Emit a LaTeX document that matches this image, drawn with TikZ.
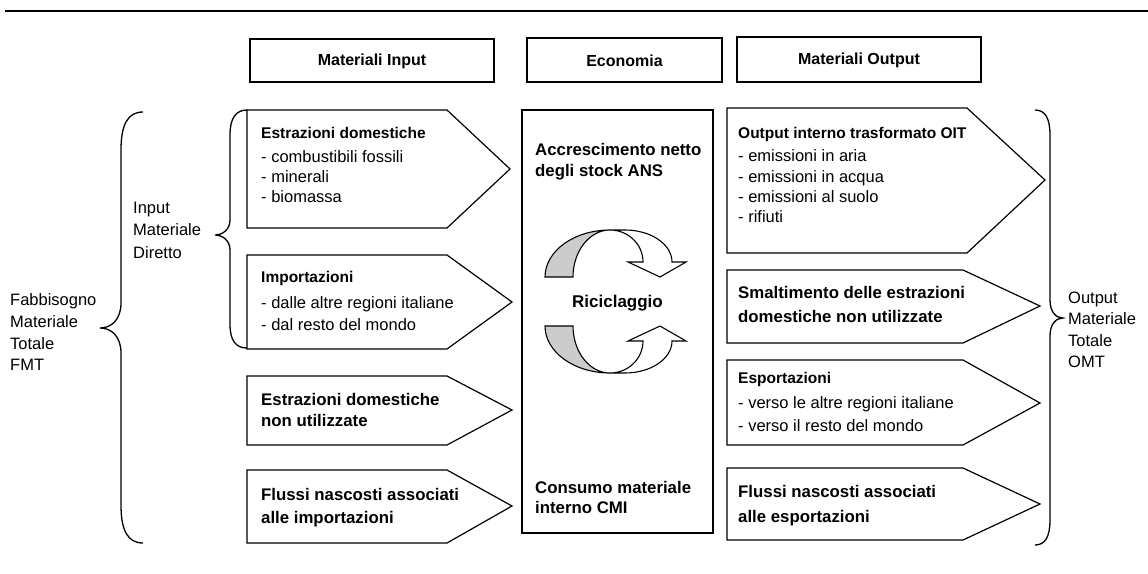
\documentclass[tikz,border=0pt]{standalone}
\usepackage{fontspec}
\setmainfont{Liberation Sans}
\newcommand{\pentpath}[6]{\draw[shp] (#1,#2) -- (#3,#2) -- (#4,#5) -- (#3,#6) -- (#1,#6) -- cycle;}
\newcommand{\hd}[1]{{\fontsize{15.5}{20}\selectfont\bfseries #1}}
\begin{document}
\begin{tikzpicture}[x=1pt,y=-1pt,
  shp/.style={draw, line width=1.2pt, fill=white, line join=miter},
  brace/.style={draw, line width=1.3pt},
  txt/.style={inner sep=0pt, anchor=north west, align=left},
  btxt/.style={inner sep=0pt, anchor=north west, align=left},
  hdr/.style={inner sep=0pt, font=\fontsize{16}{20}\selectfont\bfseries},
  recg/.style={draw, line width=1.1pt, fill=black!20},
  recw/.style={draw, line width=1.1pt, fill=white}]
\useasboundingbox (0,0) rectangle (1148,573);
% top rule
\draw[line width=2.6pt] (5,11) -- (1148,11);
% header boxes
\draw[shp] (250,39) rectangle (494,82);
\draw[shp] (527,38) rectangle (722,82);
\draw[shp] (737,37) rectangle (981,82);
\node[hdr] (hin) at (372,61) {Materiali Input};
\node[hdr] (hec) at (624.5,60.5) {Economia};
\node[hdr] (hout) at (859,60) {Materiali Output};
% braces
\draw[brace] (143,112) .. controls (128,112) and (121,124) .. (121,150) -- (121,303)
  .. controls (121,320) and (111,328) .. (100,328)
  .. controls (111,328) and (121,336) .. (121,353) -- (121,505)
  .. controls (121,531) and (128,543) .. (143,543);
\draw[brace] (247,110) .. controls (236,110) and (230,118) .. (230,135) -- (230,220)
  .. controls (230,230) and (222,235) .. (215,235)
  .. controls (222,235) and (230,240) .. (230,250) -- (230,324)
  .. controls (230,341) and (236,348) .. (247,348);
\draw[brace] (1035,110) .. controls (1045,110) and (1050,118) .. (1050,135) -- (1050,300)
  .. controls (1050,312) and (1056,318) .. (1063,318)
  .. controls (1056,318) and (1050,324) .. (1050,336) -- (1050,520)
  .. controls (1050,537) and (1045,545) .. (1035,545);
% left pentagons
\pentpath{247}{110}{447}{510}{169}{228}
\pentpath{247}{255}{447}{512}{302}{349}
\pentpath{247}{376}{447}{512}{410}{445}
\pentpath{247}{470}{447}{512}{506}{543}
% right pentagons
\pentpath{727}{108}{967}{1045}{180}{253}
\pentpath{727}{270}{963}{1040}{306}{343}
\pentpath{727}{360}{963}{1040}{403}{445}
\pentpath{727}{468}{963}{1040}{504}{540}
% center box
\draw[shp] (522,110) rectangle (713,533);
% recycling arrows (upper)
\draw[recg] (545,277) arc[start angle=180, end angle=270, x radius=65, y radius=47]
  arc[start angle=270, end angle=180, x radius=37, y radius=47] -- cycle;
\draw[recw] (610,230) -- (625,230) arc[start angle=270, end angle=360, x radius=47, y radius=32]
  -- (686,262) -- (660,277) -- (628,262) -- (643,262)
  arc[start angle=0, end angle=-90, x radius=33, y radius=32] -- cycle;
% recycling arrows (lower)
\draw[recg] (545,326) arc[start angle=180, end angle=90, x radius=65, y radius=47]
  arc[start angle=90, end angle=180, x radius=37, y radius=47] -- cycle;
\draw[recw] (610,373) -- (625,373) arc[start angle=90, end angle=0, x radius=47, y radius=32]
  -- (686,341) -- (660,326) -- (628,341) -- (643,341)
  arc[start angle=0, end angle=90, x radius=33, y radius=32] -- cycle;
% texts left boxes
\node[txt, font=\fontsize{16.5}{20.2}\selectfont] (l1) at (261,127.2) {\hd{Estrazioni domestiche}\\[3.3pt]- combustibili fossili\\- minerali\\- biomassa};
\node[txt, font=\fontsize{16.5}{22}\selectfont] (l2) at (261,271.4) {\hd{Importazioni}\\[3.5pt]- dalle altre regioni italiane\\- dal resto del mondo};
\node[btxt, font=\fontsize{16.8}{21.7}\selectfont\bfseries] (l3) at (261,392.7) {Estrazioni domestiche\\non utilizzate};
\node[btxt, font=\fontsize{16.8}{23}\selectfont\bfseries] (l4) at (261,487.7) {Flussi nascosti associati\\alle importazioni};
% texts right boxes
\node[txt, font=\fontsize{16.5}{20.3}\selectfont] (r1) at (738,127) {\hd{Output interno trasformato OIT}\\[3.2pt]- emissioni in aria\\- emissioni in acqua\\- emissioni al suolo\\- rifiuti};
\node[btxt, font=\fontsize{16.8}{24}\selectfont\bfseries] (r2) at (738,285.7) {Smaltimento delle estrazioni\\domestiche non utilizzate};
\node[txt, font=\fontsize{16.5}{23.5}\selectfont] (r3) at (738,372.4) {\hd{Esportazioni}\\[1pt]- verso le altre regioni italiane\\- verso il resto del mondo};
\node[btxt, font=\fontsize{16.8}{25}\selectfont\bfseries] (r4) at (738,485.4) {Flussi nascosti associati\\alle esportazioni};
% center texts
\node[btxt, font=\fontsize{16.8}{21}\selectfont\bfseries] (ans) at (535,142.7) {Accrescimento netto\\degli stock ANS};
\node[inner sep=0pt, anchor=base, font=\fontsize{17}{20}\selectfont\bfseries] (ric) at (617.5,307) {Riciclaggio};
\node[btxt, font=\fontsize{16.8}{20.5}\selectfont\bfseries] (cmi) at (535,480.7) {Consumo materiale\\interno CMI};
% side labels
\node[txt, font=\fontsize{16.5}{21.7}\selectfont] (fmt) at (10,293.7) {Fabbisogno\\Materiale\\Totale\\FMT};
\node[txt, font=\fontsize{16.5}{22.5}\selectfont] (imd) at (133,201.7) {Input\\Materiale\\Diretto};
\node[txt, font=\fontsize{16.5}{21.3}\selectfont] (omt) at (1068,291.7) {Output\\Materiale\\Totale\\OMT};
\end{tikzpicture}
\end{document}
